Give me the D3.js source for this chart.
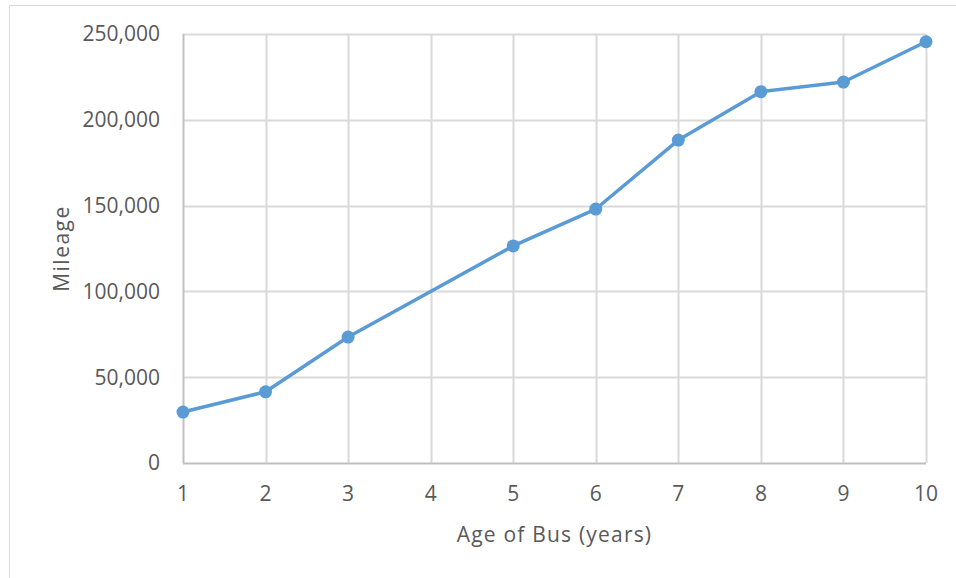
<!DOCTYPE html>
<html>
<head>
  <meta charset="UTF-8" />
  <title>Mileage by age of bus</title>
  <script src="https://cdn.jsdelivr.net/npm/d3@7"></script>
  <style>
    body { margin: 0; background: #fff; }
    text { font-family: "Open Sans", "Noto Sans", sans-serif; fill: #595959; }
  </style>
</head>
<body>
  <svg width="956" height="578"></svg>
  <script>
    // data (age 4 has no value, line joins 3 to 5)
    var ages = ["1", "2", "3", "4", "5", "6", "7", "8", "9", "10"];
    var mileage = [29700, 41500, 73400, null, 126500, 148000, 188200, 216400, 222000, 245500];
    var yTicks = [0, 50000, 100000, 150000, 200000, 250000];

    var svg = d3.select("svg");
    var marge = { top: 34, bottom: 115, left: 183, right: 30 };
    var width = 956, height = 578;

    // chart frame
    svg.append("rect")
      .attr("x", 9.5).attr("y", 5.5)
      .attr("width", 1000).attr("height", 1000)
      .attr("fill", "none")
      .attr("stroke", "#d9d9d9");

    var x = d3.scalePoint()
      .domain(ages)
      .range([marge.left, width - marge.right]);
    var y = d3.scaleLinear()
      .domain([0, 250000])
      .range([height - marge.bottom, marge.top]);

    var g = svg.append("g");

    // gridlines
    g.selectAll(".hgrid")
      .data(yTicks.slice(1))
      .enter().append("line")
      .attr("x1", marge.left).attr("x2", width - marge.right)
      .attr("y1", function (d) { return Math.round(y(d)) + 0.5; })
      .attr("y2", function (d) { return Math.round(y(d)) + 0.5; })
      .attr("stroke", "#d9d9d9").attr("stroke-width", 2);
    g.selectAll(".vgrid")
      .data(ages)
      .enter().append("line")
      .attr("x1", function (d) { return Math.round(x(d)) + 0.5; })
      .attr("x2", function (d) { return Math.round(x(d)) + 0.5; })
      .attr("y1", marge.top).attr("y2", y(0))
      .attr("stroke", function (d, i) { return i == 0 ? "#bfbfbf" : "#d9d9d9"; })
      .attr("stroke-width", 2);

    // x axis line
    g.append("line")
      .attr("x1", marge.left).attr("x2", width - marge.right)
      .attr("y1", Math.round(y(0)) + 0.5).attr("y2", Math.round(y(0)) + 0.5)
      .attr("stroke", "#bfbfbf").attr("stroke-width", 2);

    // tick labels
    var fmt = d3.format(",");
    g.selectAll(".ylab")
      .data(yTicks)
      .enter().append("text")
      .attr("x", 160)
      .attr("y", function (d) { return y(d); })
      .attr("dy", "0.35em")
      .attr("text-anchor", "end")
      .attr("font-size", 21)
      .text(function (d) { return fmt(d); });
    g.selectAll(".xlab")
      .data(ages)
      .enter().append("text")
      .attr("x", function (d) { return x(d); })
      .attr("y", 501)
      .attr("text-anchor", "middle")
      .attr("font-size", 21)
      .text(function (d) { return d; });

    // axis titles
    svg.append("text")
      .attr("x", (marge.left + width - marge.right) / 2)
      .attr("y", 542)
      .attr("text-anchor", "middle")
      .attr("font-size", 21)
      .attr("letter-spacing", 1.2)
      .text("Age of Bus (years)");
    svg.append("text")
      .attr("transform", "translate(69," + (marge.top + height - marge.bottom) / 2 + ") rotate(-90)")
      .attr("text-anchor", "middle")
      .attr("font-size", 21)
      .attr("letter-spacing", 1.5)
      .text("Mileage");

    // series
    var pts = ages.map(function (a, i) { return { age: a, v: mileage[i] }; })
      .filter(function (d) { return d.v != null; });
    var line = d3.line()
      .x(function (d) { return x(d.age); })
      .y(function (d) { return y(d.v); });
    g.append("path")
      .datum(pts)
      .attr("d", line)
      .attr("fill", "none")
      .attr("stroke", "#5b9bd5")
      .attr("stroke-width", 3.5)
      .attr("stroke-linejoin", "round");
    g.selectAll(".dot")
      .data(pts)
      .enter().append("circle")
      .attr("cx", function (d) { return x(d.age); })
      .attr("cy", function (d) { return y(d.v); })
      .attr("r", 6.5)
      .attr("fill", "#5b9bd5");
  </script>
</body>
</html>
